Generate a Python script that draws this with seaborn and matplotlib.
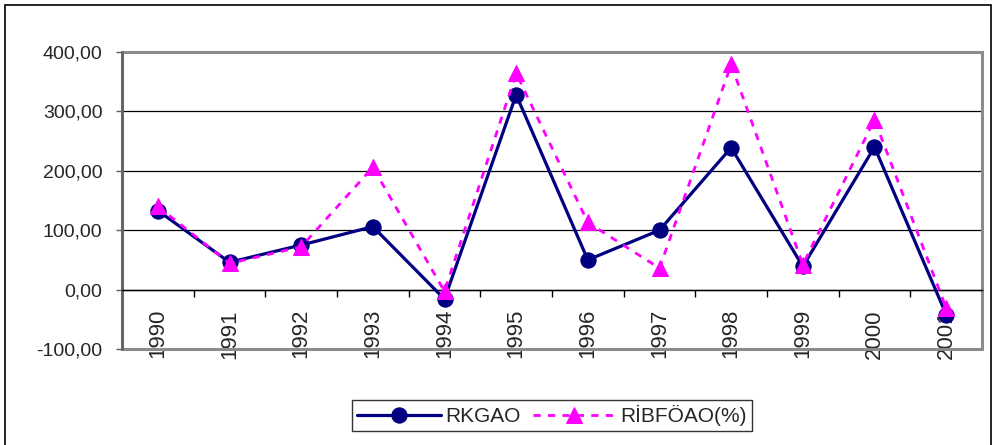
import matplotlib
matplotlib.use("Agg")
import matplotlib.pyplot as plt
from matplotlib.patches import Rectangle
from matplotlib.ticker import FixedLocator, FuncFormatter
import numpy as np
import pandas as pd
import seaborn as sns

# Yearly values for the two indicators
years = ["1990", "1991", "1992", "1993", "1994", "1995",
         "1996", "1997", "1998", "1999", "2000", "2001"]
rkgao = [133, 46, 75, 106, -16, 328, 50, 100, 239, 39, 240, -42]
ribfoao = [140, 44, 72, 206, -3, 364, 113, 36, 379, 42, 286, -31]
series_names = ["RKGAO", "RİBFÖAO(%)"]
y_ticks = [-100, 0, 100, 200, 300, 400]

pos = np.arange(len(years))
df = pd.DataFrame({
    "pos": np.concatenate([pos, pos]),
    "value": rkgao + ribfoao,
    "series": [series_names[0]] * len(years) + [series_names[1]] * len(years),
})

sns.set_theme(style="white")
plt.rcParams["font.family"] = ["Liberation Sans", "DejaVu Sans"]

fig = plt.figure(figsize=(9.96, 4.45), dpi=100)
ax = fig.add_axes([122 / 996, 1 - 349 / 445, (982 - 122) / 996, (349 - 52) / 445])

colors = {series_names[0]: "#000080", series_names[1]: "#FF00FF"}
sns.lineplot(
    data=df, x="pos", y="value", hue="series", style="series",
    palette=colors,
    markers={series_names[0]: "o", series_names[1]: "^"},
    dashes={series_names[0]: "", series_names[1]: (2.6, 2.6)},
    markersize=11, ax=ax, legend=False, sort=False,
)
lines = ax.get_lines()
widths = [2.3, 2.0]
sizes = [11, 12]
for ln, lw, ms in zip(lines, widths, sizes):
    ln.set_linewidth(lw)
    ln.set_markersize(ms)
    ln.set_markeredgecolor(ln.get_color())
    ln.set_markerfacecolor(ln.get_color())
    ln.set_clip_on(False)
lines[0].set_zorder(3)
lines[1].set_zorder(4)

ax.set_xlim(-0.5, len(years) - 0.5)
ax.set_ylim(-100, 400)
ax.set_xlabel("")
ax.set_ylabel("")

# Category axis crosses at zero
ax.spines["bottom"].set_position(("data", 0))
ax.spines["bottom"].set_color("black")
ax.spines["bottom"].set_linewidth(1.0)
ax.spines["left"].set_color("#606060")
ax.spines["left"].set_linewidth(1.8)
for s in ["top", "right"]:
    ax.spines[s].set_visible(False)

# Plot-area frame
ax.add_patch(Rectangle((0, 0), 1, 1, transform=ax.transAxes, fill=False,
                       edgecolor="#8c8c8c", linewidth=2.2, clip_on=False, zorder=1))

ax.xaxis.set_major_locator(FixedLocator(pos))
ax.set_xticklabels(years, rotation=90, fontsize=16)
ax.xaxis.set_minor_locator(FixedLocator(np.arange(len(years)) + 0.5))
ax.tick_params(axis="x", which="major", length=0, pad=14, bottom=True)
ax.tick_params(axis="x", which="minor", length=5, width=1, color="black",
               bottom=True, direction="out")

ax.set_yticks(y_ticks)
ax.yaxis.set_major_formatter(FuncFormatter(lambda v, p: f"{v:.2f}".replace(".", ",")))
ax.tick_params(axis="y", length=4, width=1, color="#606060", left=True,
               labelsize=14, pad=10, direction="out")
ax.yaxis.grid(True, color="black", linewidth=0.9)
ax.set_axisbelow(True)

# Legend below the plot
leg = fig.legend(
    handles=lines, labels=series_names, loc="center",
    bbox_to_anchor=(552 / 996, 1 - 415.5 / 445), ncol=2, fontsize=15,
    frameon=True, fancybox=False, handlelength=4.0, columnspacing=0.6,
    handletextpad=0.2, borderpad=0.25, borderaxespad=0,
)
leg.get_frame().set_edgecolor("black")
leg.get_frame().set_linewidth(1.0)

# Outer chart border
fig.patches.append(Rectangle((5 / 996, -0.1), (991 - 5) / 996, 1.1 - 5 / 445,
                             transform=fig.transFigure, fill=False,
                             edgecolor="black", linewidth=1.2))

fig.savefig("out.png", dpi=100)
